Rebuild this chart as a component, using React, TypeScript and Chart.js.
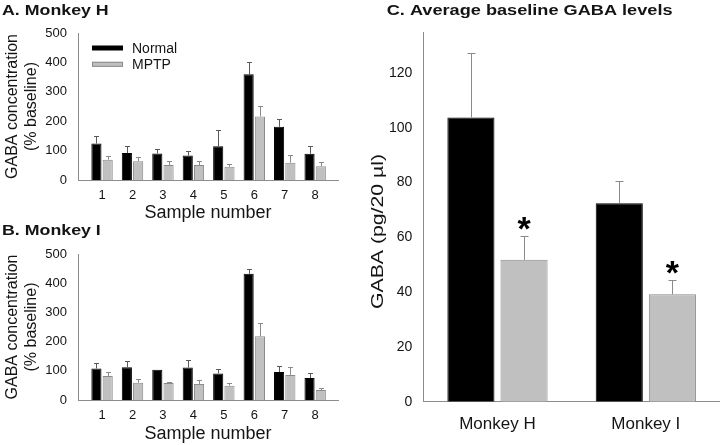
import React, { useEffect, useRef } from 'react';
import { Chart, registerables } from 'chart.js';

Chart.register(...registerables);

const FONT = 'Arial, "Liberation Sans", Helvetica, sans-serif';
const TEXT = '#141414';
const AXIS = '#8c8c8c';
const BLACK = '#000000';
const GRAY = '#c0c0c0';
const GRAY_EDGE = '#8a8a8a';

Chart.defaults.font.family = FONT;
Chart.defaults.color = TEXT;

// ---- Data: panels A & B (% baseline) ----
const samples = [1, 2, 3, 4, 5, 6, 7, 8];
const seriesNames = ['Normal', 'MPTP'];
const monkeyHNormal = [124, 92, 90, 83, 115, 360, 181, 89];
const monkeyHNormalErr = [27, 24, 16, 15, 55, 43, 28, 28];
const monkeyHMptp = [69, 64, 51, 51, 45, 216, 59, 47];
const monkeyHMptpErr = [13, 13, 14, 12, 9, 36, 26, 13];
const monkeyINormal = [108, 112, 104, 111, 91, 432, 96, 75];
const monkeyINormalErr = [18, 21, 0, 26, 15, 17, 20, 18];
const monkeyIMptp = [82, 59, 58, 55, 49, 218, 86, 34];
const monkeyIMptpErr = [14, 12, 2, 13, 10, 46, 27, 7];
const pctTicks = [0, 100, 200, 300, 400, 500];

// ---- Data: panel C (pg/20 µl) ----
const monkeys = ['Monkey H', 'Monkey I'];
const avgNormal = [103.8, 72.5];
const avgNormalErr = [23.5, 8];
const avgMptp = [51.8, 39.2];
const avgMptpErr = [8.7, 5.3];
const avgMptpSignificant = [true, true];
const avgTicks = [0, 20, 40, 60, 80, 100, 120];

// ---- Plugins ----
const errorBarPlugin = {
  id: 'errorBars',
  afterDatasetsDraw(chart: any, _a: any, opts: any) {
    const { ctx } = chart;
    const y = chart.scales.y;
    chart.data.datasets.forEach((ds: any, di: number) => {
      const meta = chart.getDatasetMeta(di);
      meta.data.forEach((bar: any, i: number) => {
        const val = meta.controller.getParsed(i).y;
        const err = ds.errors ? ds.errors[i] : 0;
        const top = y.getPixelForValue(val + (err || 0));
        if (err) {
          ctx.save();
          ctx.strokeStyle = ds.errorColor || '#888';
          ctx.lineWidth = 1;
          const x = Math.round(bar.x) + 0.5;
          const ty = Math.round(top) + 0.5;
          ctx.beginPath();
          ctx.moveTo(x, bar.y);
          ctx.lineTo(x, ty);
          ctx.moveTo(x - opts.cap / 2, ty);
          ctx.lineTo(x + opts.cap / 2, ty);
          ctx.stroke();
          ctx.restore();
        }
        if (ds.marks && ds.marks[i]) {
          ctx.save();
          ctx.font = `bold ${opts.starSize}px ${FONT}`;
          ctx.fillStyle = '#000';
          ctx.textAlign = 'center';
          ctx.textBaseline = 'alphabetic';
          ctx.fillText('*', bar.x, top - opts.starGap + opts.starSize * 0.57);
          ctx.restore();
        }
      });
    });
  },
};

const textPlugin = {
  id: 'panelText',
  afterDraw(chart: any, _a: any, opts: any) {
    const { ctx } = chart;
    (opts.items || []).forEach((it: any) => {
      ctx.save();
      ctx.font = `${it.weight || 'normal'} ${it.size}px ${FONT}`;
      ctx.fillStyle = it.color || TEXT;
      ctx.textAlign = it.align || 'left';
      ctx.textBaseline = it.baseline || 'alphabetic';
      ctx.translate(it.x, it.y);
      if (it.rotate) ctx.rotate(it.rotate);
      ctx.scale(it.sx || 1, 1);
      ctx.fillText(it.text, 0, 0);
      ctx.restore();
    });
  },
};

const legendPlugin = {
  id: 'boxLegend',
  afterDraw(chart: any, _a: any, opts: any) {
    if (!opts.show) return;
    const { ctx } = chart;
    chart.data.datasets.forEach((ds: any, i: number) => {
      const cy = opts.y + i * opts.step;
      ctx.save();
      ctx.fillStyle = ds.backgroundColor;
      ctx.fillRect(opts.x, cy - opts.h / 2, opts.w, opts.h);
      if (ds.borderColor !== ds.backgroundColor) {
        ctx.strokeStyle = ds.borderColor;
        ctx.lineWidth = 1;
        ctx.strokeRect(opts.x + 0.5, cy - opts.h / 2 + 0.5, opts.w - 1, opts.h - 1);
      }
      ctx.font = `${opts.size}px ${FONT}`;
      ctx.fillStyle = TEXT;
      ctx.textBaseline = 'middle';
      ctx.textAlign = 'left';
      ctx.fillText(ds.label, opts.x + opts.w + opts.gap, cy + 1);
      ctx.restore();
    });
  },
};

function sampleConfig(normal: number[], normalErr: number[], mptp: number[], mptpErr: number[], title: string, showLegend: boolean, padTop: number, xHeight: number, titlePadBottom: number) {
  return {
    type: 'bar',
    data: {
      datasets: [
        {
          label: seriesNames[0],
          data: samples.map((s, i) => ({ x: s, y: normal[i] })),
          backgroundColor: BLACK,
          borderColor: BLACK,
          borderWidth: 1,
          errors: normalErr,
          errorColor: '#5a5a5a',
        },
        {
          label: seriesNames[1],
          data: samples.map((s, i) => ({ x: s, y: mptp[i] })),
          backgroundColor: GRAY,
          borderColor: GRAY_EDGE,
          borderWidth: 1,
          errors: mptpErr,
          errorColor: '#8a8a8a',
        },
      ],
    },
    options: {
      responsive: false,
      animation: false,
      layout: { padding: { top: padTop, right: 7, left: 0, bottom: 0 } },
      datasets: { bar: { categoryPercentage: 0.74, barPercentage: 0.9 } },
      scales: {
        x: {
          type: 'linear',
          min: 0.21,
          max: 8.75,
          offset: false,
          afterBuildTicks: (axis: any) => {
            axis.ticks = samples.map((v) => ({ value: v }));
          },
          afterFit: (s: any) => {
            s.height = xHeight;
          },
          grid: { display: false },
          border: { display: true, color: AXIS, width: 1 },
          ticks: { font: { size: 13 }, color: TEXT, padding: 0, autoSkip: false, maxRotation: 0, callback: (v: any) => String(v) },
          title: { display: true, text: 'Sample number', font: { size: 18 }, color: TEXT, padding: { top: 0, bottom: titlePadBottom } },
        },
        y: {
          min: 0,
          max: 500,
          afterBuildTicks: (axis: any) => {
            axis.ticks = pctTicks.map((v) => ({ value: v }));
          },
          afterFit: (s: any) => {
            s.width = 78;
          },
          grid: { display: false },
          border: { display: true, color: AXIS, width: 1 },
          ticks: { font: { size: 13 }, color: TEXT, padding: 3 },
          title: { display: true, text: ['GABA concentration', '(% baseline)'], font: { size: 16, lineHeight: 1.2 }, color: TEXT, padding: { top: 3, bottom: 0 } },
        },
      },
      plugins: {
        legend: { display: false },
        tooltip: { enabled: false },
        errorBars: { cap: 5, starSize: 32, starGap: 15 },
        boxLegend: { show: showLegend, x: 92, y: 48, step: 16.3, w: 31, h: 5, gap: 9, size: 14 },
        panelText: { items: [{ text: title, x: 2, y: 15, size: 14, weight: 'bold', sx: 1.27 }] },
      },
    },
    plugins: [errorBarPlugin, legendPlugin, textPlugin],
  };
}

function avgConfig() {
  return {
    type: 'bar',
    data: {
      labels: monkeys,
      datasets: [
        {
          label: seriesNames[0],
          data: avgNormal,
          backgroundColor: BLACK,
          borderColor: BLACK,
          borderWidth: 1,
          errors: avgNormalErr,
          errorColor: '#8a8a8a',
        },
        {
          label: seriesNames[1],
          data: avgMptp,
          backgroundColor: GRAY,
          borderColor: GRAY_EDGE,
          borderWidth: 1,
          errors: avgMptpErr,
          errorColor: '#8a8a8a',
          marks: avgMptpSignificant,
        },
      ],
    },
    options: {
      responsive: false,
      animation: false,
      layout: { padding: { top: 32, right: 0, left: 0, bottom: 0 } },
      datasets: { bar: { categoryPercentage: 0.716, barPercentage: 0.887 } },
      scales: {
        x: {
          afterFit: (s: any) => {
            s.height = 43.3;
          },
          grid: { display: false },
          border: { display: true, color: AXIS, width: 1 },
          ticks: { font: { size: 17 }, color: TEXT, padding: 4 },
        },
        y: {
          min: 0,
          max: 135,
          afterBuildTicks: (axis: any) => {
            axis.ticks = avgTicks.map((v) => ({ value: v }));
          },
          afterFit: (s: any) => {
            s.width = 63.3;
          },
          grid: { display: false },
          border: { display: true, color: AXIS, width: 1 },
          ticks: { font: { size: 14 }, color: TEXT, padding: 3 },
        },
      },
      plugins: {
        legend: { display: false },
        tooltip: { enabled: false },
        errorBars: { cap: 8, starSize: 34, starGap: 15.5 },
        boxLegend: { show: false },
        panelText: {
          items: [
            { text: 'C. Average baseline GABA levels', x: 26.7, y: 14.5, size: 15, weight: 'bold', sx: 1.21 },
            { text: 'GABA (pg/20 µl)', x: 18, y: 231.5, size: 17, align: 'center', baseline: 'middle', rotate: -Math.PI / 2, sx: 1.25 },
          ],
        },
      },
    },
    plugins: [errorBarPlugin, legendPlugin, textPlugin],
  };
}

function ChartCanvas(props: { build: () => any; left: number; top: number; width: number; height: number }) {
  const ref = useRef<HTMLCanvasElement>(null);
  useEffect(() => {
    const chart = new Chart(ref.current as HTMLCanvasElement, props.build());
    return () => chart.destroy();
  }, []);
  return (
    <canvas
      ref={ref}
      width={props.width}
      height={props.height}
      style={{ position: 'absolute', left: props.left, top: props.top, width: props.width, height: props.height }}
    />
  );
}

export default function App() {
  return (
    <div style={{ position: 'fixed', left: 0, top: 0, width: 720, height: 445, background: '#ffffff', overflow: 'hidden' }}>
      <ChartCanvas
        left={0}
        top={0}
        width={345}
        height={226}
        build={() => sampleConfig(monkeyHNormal, monkeyHNormalErr, monkeyHMptp, monkeyHMptpErr, 'A. Monkey H', true, 33, 46, 2)}
      />
      <ChartCanvas
        left={0}
        top={220}
        width={345}
        height={225}
        build={() => sampleConfig(monkeyINormal, monkeyINormalErr, monkeyIMptp, monkeyIMptpErr, 'B. Monkey I', false, 34, 45, 0)}
      />
      <ChartCanvas left={360} top={0} width={360} height={445} build={avgConfig} />
    </div>
  );
}
